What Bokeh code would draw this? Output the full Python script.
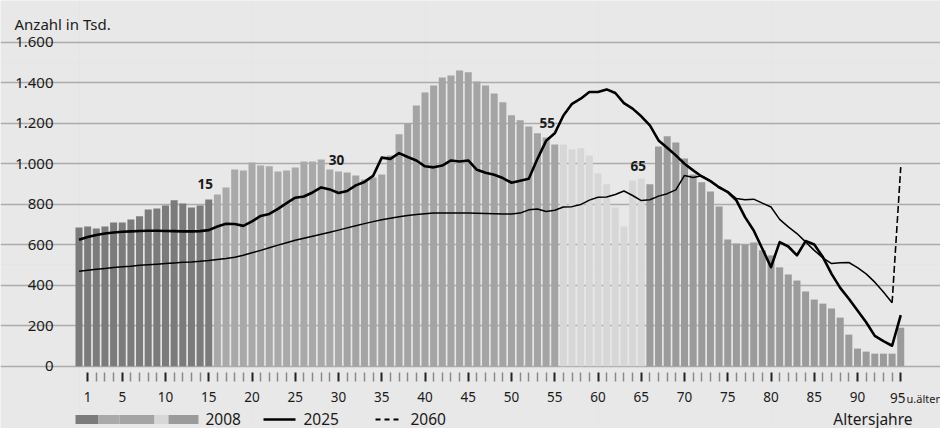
from bokeh.plotting import figure
from bokeh.models import Range1d, FixedTicker, LinearAxis, Grid
from bokeh.core.properties import value
from bokeh.embed import file_html
from bokeh.resources import INLINE

# ---------------- data ----------------
ages = list(range(96))
pop_2008 = [685, 690, 680, 690, 710, 710, 725, 740, 774, 779,
            794, 819, 804, 784, 794, 823, 848, 882, 971, 967,
            1006, 991, 987, 962, 967, 981, 1011, 1011, 1021, 971,
            962, 957, 942, 922, 932, 947, 1041, 1145, 1199, 1288,
            1352, 1386, 1426, 1436, 1460, 1451, 1406, 1386, 1347, 1303,
            1239, 1214, 1184, 1150, 1130, 1095, 1095, 1071, 1076, 1041,
            952, 898, 784, 690, 917, 927, 898, 1085, 1135, 1105,
            1026, 947, 908, 863, 789, 626, 606, 601, 611, 572,
            547, 488, 453, 423, 369, 329, 309, 285, 240, 156,
            87, 72, 62, 62, 62, 190]
pop_2025 = [625, 638, 648, 655, 660, 664, 666, 668, 669, 669,
            668, 667, 666, 666, 667, 672, 690, 703, 702, 693,
            715, 742, 752, 777, 805, 832, 838, 858, 883, 873,
            855, 865, 893, 910, 940, 1030, 1024, 1052, 1033, 1016,
            987, 982, 991, 1016, 1011, 1016, 970, 955, 945, 929,
            906, 916, 926, 1024, 1113, 1150, 1238, 1296, 1321, 1354,
            1354, 1367, 1349, 1299, 1272, 1234, 1189, 1115, 1079, 1041,
            1000, 967, 937, 914, 884, 860, 819, 736, 670, 580,
            489, 613, 591, 547, 618, 601, 539, 456, 387, 333,
            275, 217, 150, 124, 101, 252]
pop_2060 = [469, 474, 479, 483, 487, 491, 494, 498, 501, 504,
            507, 510, 513, 515, 518, 522, 527, 532, 538, 548,
            560, 572, 585, 598, 610, 622, 632, 642, 652, 662,
            672, 683, 694, 704, 714, 723, 731, 738, 744, 749,
            753, 756, 757, 757, 757, 756, 755, 754, 753, 752,
            752, 756, 772, 776, 764, 770, 786, 788, 798, 820,
            834, 836, 848, 865, 843, 818, 822, 840, 852, 871,
            942, 932, 940, 915, 880, 862, 828, 822, 825, 805,
            786, 725, 688, 655, 614, 572, 535, 507, 511, 512,
            487, 456, 415, 366, 313, 983]
group_last_age = [15, 30, 55, 65, 95]
group_colors = ["#7b7b7b", "#a9a9a9", "#a4a4a4", "#d7d7d7", "#9b9b9b"]
marked_ages = [15, 30, 55, 65]
y_ticks = [0, 200, 400, 600, 800, 1000, 1200, 1400, 1600]
x_major = [1, 5, 10, 15, 20, 25, 30, 35, 40, 45, 50, 55, 60, 65, 70, 75, 80, 85, 90, 95]
last_age_label = "95"
last_age_suffix = "u.älter"
legend_labels = ["2008", "2025", "2060"]

# ---------------- layout helpers ----------------
W, H = 940, 428
PX_AGE = 8.65          # px per age step
AGE0_X = 78.5          # px of age 0
PX_VAL = 0.2025        # px per 1000 persons
ZERO_Y = 365.7         # px of value 0

def ax(fx):   # px -> age units
    return (fx - AGE0_X) / PX_AGE

def vy(fy):   # px -> value units
    return (ZERO_Y - fy) / PX_VAL

TXT = "#1a1a1a"
FONT = value("Noto Sans")

p = figure(width=W, height=H, output_backend="svg", toolbar_location=None,
           x_range=Range1d(ax(0), ax(W)), y_range=Range1d(vy(H), vy(0)),
           x_axis_location=None, y_axis_location=None, min_border=0)
p.background_fill_color = "#e8e8e8"
p.border_fill_color = "#e8e8e8"
p.outline_line_color = None

grid_left, grid_right = ax(59), ax(922)
grid = Grid(dimension=1, ticker=FixedTicker(ticks=y_ticks), bounds=(grid_left, grid_right),
            grid_line_color="#ababab", grid_line_width=1.6)
p.add_layout(grid)

# y axis
yaxis = LinearAxis(ticker=FixedTicker(ticks=y_ticks), fixed_location=grid_left)
yaxis.major_label_overrides = {t: f"{t:,}".replace(",", ".") for t in y_ticks}
yaxis.axis_line_color = None
yaxis.major_tick_line_color = None
yaxis.minor_tick_line_color = None
yaxis.major_tick_out = 0
yaxis.major_tick_in = 0
yaxis.major_label_standoff = 6
yaxis.major_label_text_font = "Noto Sans"
yaxis.major_label_text_font_size = "15px"
yaxis.major_label_text_color = TXT
p.add_layout(yaxis, "left")

# x axis
x_minor = [a for a in range(1, 95) if a not in x_major]
xaxis = LinearAxis(ticker=FixedTicker(ticks=x_major, minor_ticks=x_minor), fixed_location=0)
xaxis.major_label_overrides = {x_major[-1]: ""}
xaxis.axis_line_color = None
xaxis.major_tick_in = -6
xaxis.major_tick_out = 15
xaxis.minor_tick_in = -6
xaxis.minor_tick_out = 15
xaxis.major_tick_line_color = "#222222"
xaxis.major_tick_line_width = 2
xaxis.minor_tick_line_color = "#8a8a8a"
xaxis.minor_tick_line_width = 1.5
xaxis.major_label_standoff = 11
xaxis.major_label_text_font = "Noto Sans"
xaxis.major_label_text_font_size = "13.5px"
xaxis.major_label_text_color = TXT
p.add_layout(xaxis, "below")

# bars
def color_for(a):
    for last, c in zip(group_last_age, group_colors):
        if a <= last:
            return c
    return group_colors[-1]

bar_colors = [color_for(a) for a in ages]
p.vbar(x=ages, top=pop_2008, width=0.81, bottom=0, fill_color=bar_colors, line_color=None)

# lines
p.line(ages[:95], pop_2060[:95], line_color="black", line_width=1.5)
p.line(ages[94:], pop_2060[94:], line_color="black", line_width=1.6, line_dash="7 3")
p.line(ages, pop_2025, line_color="black", line_width=2.6, line_join="round")

# age markers above bars
mark_off = {15: (-3.5, -15.5), 30: (-2, -11), 55: (-7.5, -21), 65: (-3, -12)}
for a in marked_ages:
    ox, oy = mark_off[a]
    p.text(x=[a], y=[pop_2008[a]], text=[str(a)], x_offset=ox, y_offset=oy,
           text_font=FONT, text_font_size=value("13.5px"), text_font_style="bold",
           text_color=TXT, text_align="center", text_baseline="middle")

# title / axis notes
p.text(x=[ax(14)], y=[vy(23.5)], text=["Anzahl in Tsd."], text_font=FONT,
       text_font_size=value("15px"), text_color=TXT, text_align="left", text_baseline="middle")
p.text(x=[x_major[-1]], y=[vy(397.5)], text=[last_age_label], x_offset=-3, text_font=FONT,
       text_font_size=value("13.5px"), text_color=TXT, text_align="center", text_baseline="middle")
p.text(x=[ax(906)], y=[vy(397.5)], text=[last_age_suffix], text_font=FONT,
       text_font_size=value("11px"), text_color=TXT, text_align="left", text_baseline="middle")
p.text(x=[ax(912)], y=[vy(418)], text=["Altersjahre"], text_font=FONT,
       text_font_size=value("15.5px"), text_color=TXT, text_align="right", text_baseline="middle")

# legend
sw_edges = [75, 98, 119, 154, 168, 198]
sw_top, sw_bot = vy(414.5), vy(423.5)
p.quad(left=[ax(e) for e in sw_edges[:-1]], right=[ax(e) for e in sw_edges[1:]],
       top=sw_top, bottom=sw_bot, fill_color=group_colors, line_color=None)
leg_y = vy(419)
p.line([ax(263), ax(295)], [leg_y, leg_y], line_color="black", line_width=2.6)
p.line([ax(375), ax(399)], [leg_y, leg_y], line_color="black", line_width=2, line_dash="5 4")
p.text(x=[ax(205), ax(303), ax(410)], y=[vy(418)] * 3, text=legend_labels, text_font=FONT,
       text_font_size=value("15.5px"), text_color=TXT, text_align="left", text_baseline="middle")

html = file_html(p, INLINE, title="Bevölkerung nach Altersjahren")
html = html.replace("<body", '<body style="background-color:#e8e8e8"', 1)
open("out.html", "w").write(html)
